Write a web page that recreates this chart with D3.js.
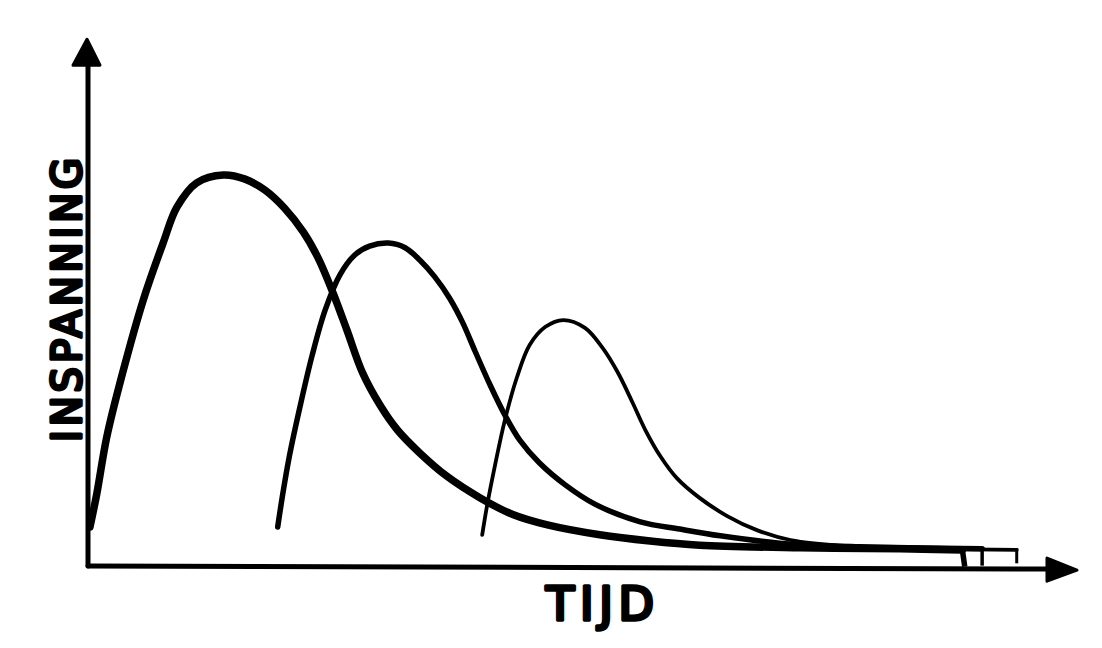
<!DOCTYPE html>
<html>
<head>
<meta charset="utf-8">
<script src="https://cdn.jsdelivr.net/npm/d3@7"></script>
<style>
  html, body { margin: 0; padding: 0; background: #fff; }
  svg { display: block; }
</style>
</head>
<body>
<svg id="chart" width="1102" height="648"></svg>
<script>
// ---- data (time 0..100, effort 0..100) ----
const xLabel = "TIJD";
const yLabel = "INSPANNING";

const curve1 = [
  [0.2,7.5],[0.9,14.0],[1.9,24.8],[3.5,37.1],[5.6,51.2],[7.6,62.1],[9.0,69.0],
  [11.0,73.7],[13.7,75.2],[15.9,74.4],[17.9,72.3],[19.9,68.8],[21.8,64.2],[23.3,59.2],
  [24.8,52.5],[26.2,45.4],[27.8,37.1],[29.6,30.8],[31.3,26.2],[33.6,21.7],[36.3,17.3],
  [39.7,13.1],[43.0,9.9],[46.5,7.9],[51.8,6.0],[56.9,4.8],[61.9,4.0],[72.1,3.5],
  [82.2,3.3],[88.5,3.1]
];
const curve2 = [
  [19.2,7.5],[19.7,13.7],[20.4,21.3],[21.5,31.0],[22.7,40.6],[24.0,49.2],[25.5,56.0],
  [27.0,59.8],[28.5,61.5],[30.4,62.1],[32.1,61.2],[33.6,58.8],[35.1,55.6],[36.6,51.5],
  [37.9,46.9],[39.2,41.2],[40.7,34.8],[42.2,29.0],[43.7,24.2],[45.7,19.8],[48.3,15.6],
  [51.3,11.9],[55.9,8.5],[59.9,7.1],[64.0,5.8],[70.0,4.4],[78.1,3.7],[90.5,3.3]
];
const curve3 = [
  [39.9,6.0],[40.4,11.7],[41.2,19.4],[42.2,28.1],[43.4,36.2],[44.7,42.5],[46.3,46.0],
  [48.1,47.3],[50.3,45.8],[52.1,41.9],[53.6,37.3],[55.1,31.5],[56.4,26.2],[57.9,21.2],
  [59.6,16.9],[61.9,13.1],[64.7,9.6],[67.7,6.9],[71.1,5.0],[77.1,3.8],[86.2,3.3],[94.0,3.1]
];
// end hooks (last point drops to the axis)
const hooks = [
  [[88.5,3.1],[88.7,0.4]],
  [[90.5,3.3],[90.5,0.4]],
  [[94.0,3.1],[94.0,0.8]]
];
const widths = [7.5, 5.5, 3.8];

// ---- scales ----
const svg = d3.select("#chart");
const x = d3.scaleLinear().domain([0, 100]).range([88, 1076]);
const y = d3.scaleLinear().domain([0, 100]).range([566, 46]);

const ink = "#000";

// axes
const axisW = 5;
svg.append("line")
  .attr("x1", x(0)).attr("y1", y(0))
  .attr("x2", x(0)).attr("y2", y(96))
  .attr("stroke", ink).attr("stroke-width", axisW).attr("stroke-linecap", "round");
svg.append("line")
  .attr("x1", x(0)).attr("y1", y(0))
  .attr("x2", x(97)).attr("y2", y(-0.6))
  .attr("stroke", ink).attr("stroke-width", axisW).attr("stroke-linecap", "round");

// arrow heads
const yTip = [x(0) - 1, y(101.3)];
svg.append("path")
  .attr("d", `M${yTip[0]},${yTip[1]} L${yTip[0]+13},${yTip[1]+26} L${yTip[0]-14},${yTip[1]+26} Z`)
  .attr("fill", ink).attr("stroke", ink).attr("stroke-width", 3).attr("stroke-linejoin", "round");
const xTip = [x(100.1), y(-0.8)];
svg.append("path")
  .attr("d", `M${xTip[0]},${xTip[1]} L${xTip[0]-30},${xTip[1]-12} L${xTip[0]-30},${xTip[1]+11} Z`)
  .attr("fill", ink).attr("stroke", ink).attr("stroke-width", 3).attr("stroke-linejoin", "round");

// curves
const line = d3.line().x(d => x(d[0])).y(d => y(d[1])).curve(d3.curveCatmullRom.alpha(0.5));
const lin = d3.line().x(d => x(d[0])).y(d => y(d[1]));
[curve1, curve2, curve3].forEach((c, i) => {
  svg.append("path").attr("d", line(c))
    .attr("fill", "none").attr("stroke", ink)
    .attr("stroke-width", widths[i]).attr("stroke-linecap", "round").attr("stroke-linejoin", "round");
  svg.append("path").attr("d", lin(hooks[i]))
    .attr("fill", "none").attr("stroke", ink)
    .attr("stroke-width", Math.max(3, widths[i] - 2)).attr("stroke-linecap", "square");
});

// labels (marker-like: regular weight + round stroke)
const fontFam = "'DejaVu Sans', sans-serif";
svg.append("text")
  .attr("x", 600).attr("y", 620)
  .attr("text-anchor", "middle")
  .attr("font-family", fontFam).attr("font-weight", "normal").attr("font-size", 46)
  .attr("textLength", 108).attr("lengthAdjust", "spacing")
  .attr("stroke", ink).attr("stroke-width", 3.6).attr("stroke-linejoin", "round").attr("stroke-linecap", "round")
  .attr("fill", ink)
  .text(xLabel);
svg.append("text")
  .attr("transform", "translate(81,300) rotate(-90)")
  .attr("text-anchor", "middle")
  .attr("font-family", fontFam).attr("font-weight", "normal").attr("font-size", 40)
  .attr("textLength", 284).attr("lengthAdjust", "spacing")
  .attr("stroke", ink).attr("stroke-width", 3.4).attr("stroke-linejoin", "round").attr("stroke-linecap", "round")
  .attr("fill", ink)
  .text(yLabel);
</script>
</body>
</html>
